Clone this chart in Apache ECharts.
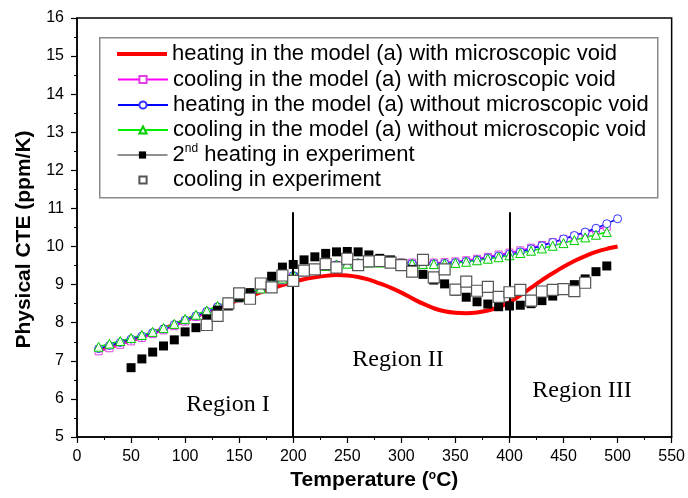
<!DOCTYPE html>
<html><head><meta charset="utf-8">
<script src="https://cdn.jsdelivr.net/npm/echarts@6/dist/echarts.min.js"></script>
<style>html,body{margin:0;padding:0;background:#fff}#c{width:688px;height:498px}</style>
</head><body><div id="c"></div>
<script>
// ---- data ----
const xTicks = [0,50,100,150,200,250,300,350,400,450,500,550];
const yTicks = [5,6,7,8,9,10,11,12,13,14,15,16];

const tempsTo500 = [20,30,40,50,60,70,80,90,100,110,120,130,140,150,160,170,180,190,200,210,220,230,240,250,260,270,280,290,300,310,320,330,340,350,360,370,380,390,400,410,420,430,440,450,460,470,480,490,500];
const tempsTo490 = [20,30,40,50,60,70,80,90,100,110,120,130,140,150,160,170,180,190,200,210,220,230,240,250,260,270,280,290,300,310,320,330,340,350,360,370,380,390,400,410,420,430,440,450,460,470,480,490];
const expHeatTemps = [50,60,70,80,90,100,110,120,130,140,150,160,170,180,190,200,210,220,230,240,250,260,270,280,290,300,310,320,330,340,350,360,370,380,390,400,410,420,430,440,450,460,470,480,490];
const expCoolTemps = [120,130,140,150,160,170,180,190,200,210,220,230,240,250,260,270,280,290,300,310,320,330,340,350,360,370,380,390,400,410,420,430,440,450,460,470];

const heatVoid = [7.28,7.36,7.45,7.54,7.63,7.73,7.84,7.95,8.06,8.17,8.28,8.39,8.5,8.6,8.7,8.8,8.9,8.99,9.07,9.14,9.19,9.23,9.25,9.24,9.2,9.13,9.03,8.92,8.79,8.64,8.5,8.38,8.3,8.26,8.25,8.27,8.32,8.41,8.54,8.72,8.92,9.12,9.3,9.47,9.62,9.75,9.86,9.94,10.0];
const coolVoid = [7.25,7.33,7.42,7.51,7.6,7.7,7.8,7.91,8.03,8.15,8.27,8.39,8.51,8.63,8.75,8.87,8.99,9.11,9.22,9.32,9.41,9.48,9.52,9.55,9.57,9.59,9.59,9.58,9.58,9.58,9.58,9.58,9.59,9.61,9.64,9.68,9.73,9.79,9.84,9.9,9.97,10.04,10.12,10.2,10.28,10.36,10.44,10.52];
const heatNoVoid = [7.32,7.4,7.48,7.57,7.65,7.74,7.84,7.95,8.07,8.18,8.3,8.42,8.54,8.66,8.78,8.9,9.02,9.14,9.24,9.34,9.42,9.48,9.52,9.55,9.57,9.58,9.58,9.57,9.56,9.55,9.55,9.55,9.56,9.58,9.61,9.65,9.7,9.75,9.8,9.86,9.94,10.02,10.11,10.2,10.29,10.38,10.48,10.6,10.73];
const coolNoVoid = [7.37,7.45,7.52,7.6,7.68,7.76,7.86,7.97,8.1,8.21,8.32,8.44,8.55,8.67,8.79,8.9,9.03,9.16,9.26,9.36,9.44,9.49,9.53,9.55,9.57,9.58,9.58,9.57,9.56,9.55,9.54,9.54,9.55,9.57,9.6,9.64,9.68,9.72,9.77,9.83,9.89,9.95,10.02,10.09,10.17,10.24,10.31,10.38];
const expHeat = [6.82,7.05,7.23,7.39,7.55,7.76,7.87,8.1,8.33,8.44,8.67,8.79,9.0,9.22,9.46,9.53,9.65,9.73,9.82,9.86,9.87,9.86,9.78,9.69,9.65,9.56,9.4,9.27,9.12,9.02,8.83,8.67,8.55,8.49,8.42,8.44,8.46,8.5,8.58,8.7,8.85,9.0,9.15,9.34,9.49];
const expCool = [7.94,8.18,8.51,8.77,8.63,9.03,8.93,9.24,9.1,9.37,9.4,9.54,9.45,9.68,9.51,9.61,9.62,9.58,9.51,9.34,9.65,9.19,9.4,8.87,9.08,8.84,8.94,8.68,8.8,8.86,8.58,8.82,8.86,8.88,8.83,9.05];

const regionBounds = [200, 400];
const regionLineTop = 10.9;

const names = [
  'heating in the model (a) with microscopic void',
  'cooling in the model (a) with microscopic void',
  'heating in the model (a) without microscopic void',
  'cooling in the model (a) without microscopic void',
  '2nd heating in experiment',
  'cooling in experiment'
];

const pair = (xs, ys) => xs.map((x, i) => [x, ys[i]]);
const SANS = 'Liberation Sans, Arial, sans-serif';
const SERIF = 'Liberation Serif, Times New Roman, serif';

const chart = echarts.init(document.getElementById('c'), null, {renderer: 'canvas'});

const rowCenters = [54, 79.5, 105, 130, 155, 180];
const legendItems = [
  {name: names[0], icon: 'path://M0,0 L50,0 L50,4 L0,4 Z'},
  {name: names[1]},
  {name: names[2]},
  {name: names[3]},
  {name: names[4], lineStyle: {opacity: 1, width: 1, color: '#222'}},
  {name: names[5]}
];
const legends = legendItems.map((it, i) => ({
  show: true, left: 117, top: rowCenters[i] - 12, orient: 'vertical', padding: 0,
  itemWidth: 50, itemHeight: 9, itemGap: 0, selectedMode: false,
  data: [it],
  formatter: n => n === names[4] ? '2{sup|nd} heating in experiment' : n,
  textStyle: {fontSize: 22, fontFamily: SANS, color: '#000', lineHeight: 24,
    rich: {sup: {fontSize: 12, fontFamily: SANS, color: '#000', lineHeight: 12, verticalAlign: 'top'}}}
}));

const option = {
  animation: false,
  backgroundColor: '#fff',
  grid: {left: 77, right: 14, top: 18, bottom: 61, show: true, borderColor: '#000', borderWidth: 1.5, backgroundColor: 'transparent'},
  legend: legends,
  xAxis: {
    type: 'value', min: xTicks[0], max: xTicks[xTicks.length - 1], interval: 50,
    name: 'Temperature ({sup|o}C)', nameLocation: 'middle', nameGap: 33,
    nameTextStyle: {fontSize: 21, fontWeight: 'bold', fontFamily: SANS, color: '#000',
      rich: {sup: {fontSize: 12, fontWeight: 'bold', fontFamily: SANS, color: '#000', verticalAlign: 'top', lineHeight: 10}}},
    axisLine: {lineStyle: {color: '#000', width: 1.5}},
    axisTick: {inside: false, length: 6, lineStyle: {color: '#000', width: 1.2}},
    minorTick: {show: true, splitNumber: 2, length: 3, lineStyle: {color: '#000', width: 1}},
    axisLabel: {fontSize: 16, fontFamily: SANS, color: '#000', margin: 12},
    splitLine: {show: false}
  },
  yAxis: {
    type: 'value', min: yTicks[0], max: yTicks[yTicks.length - 1], interval: 1,
    name: 'Physical CTE (ppm/K)', nameLocation: 'middle', nameGap: 42,
    nameTextStyle: {fontSize: 21, fontWeight: 'bold', fontFamily: SANS, color: '#000', padding: [0, 24, 0, 0]},
    axisLine: {lineStyle: {color: '#000', width: 1.5}},
    axisTick: {inside: false, length: 6, lineStyle: {color: '#000', width: 1.2}},
    minorTick: {show: true, splitNumber: 2, length: 3, lineStyle: {color: '#000', width: 1}},
    axisLabel: {fontSize: 16, fontFamily: SANS, color: '#000', margin: 13},
    splitLine: {show: false}
  },
  series: [
    {
      name: names[0], type: 'line', data: pair(tempsTo500, heatVoid), smooth: 0.3,
      symbol: 'none', lineStyle: {color: '#ff0000', width: 4}, itemStyle: {color: '#ff0000'},
      z: 2,
      markLine: {
        silent: true, symbol: ['none', 'none'], label: {show: false},
        lineStyle: {color: '#000', width: 2, type: 'solid'},
        data: regionBounds.map(b => [{coord: [b, yTicks[0]]}, {coord: [b, regionLineTop]}])
      }
    },
    {
      name: names[1], type: 'line', data: pair(tempsTo490, coolVoid),
      symbol: 'rect', symbolSize: 7,
      lineStyle: {color: '#ff00ff', width: 1.5},
      itemStyle: {color: '#fff', borderColor: '#e040e0', borderWidth: 1}, z: 3
    },
    {
      name: names[2], type: 'line', data: pair(tempsTo500, heatNoVoid),
      symbol: 'circle', symbolSize: 8,
      lineStyle: {color: '#0000ff', width: 1.5},
      itemStyle: {color: '#fff', borderColor: '#3030ff', borderWidth: 1}, z: 3
    },
    {
      name: names[3], type: 'line', data: pair(tempsTo490, coolNoVoid),
      symbol: 'triangle', symbolSize: 9,
      lineStyle: {color: '#00ee00', width: 1.5},
      itemStyle: {color: '#f4fff4', borderColor: '#00cc00', borderWidth: 1}, z: 3
    },
    {
      name: names[4], type: 'line', data: pair(expHeatTemps, expHeat),
      symbol: 'rect', symbolSize: 9,
      lineStyle: {color: '#000', width: 1, opacity: 0},
      itemStyle: {color: '#000'}, z: 4
    },
    {
      name: names[5], type: 'line', data: pair(expCoolTemps, expCool),
      symbol: 'rect', symbolSize: 11,
      lineStyle: {color: '#555', width: 1, opacity: 0},
      itemStyle: {color: '#fff', borderColor: '#555', borderWidth: 1.2}, z: 5
    }
  ],
  graphic: [
    {type: 'rect', left: 99, top: 37, shape: {width: 558, height: 160}, style: {fill: '#fff', stroke: '#8a8a8a', lineWidth: 1.5}, z: 1},
    {type: 'text', x: 228, y: 405, style: {text: 'Region I', font: '24px ' + SERIF, fill: '#000', align: 'center', verticalAlign: 'middle'}, z: 10},
    {type: 'text', x: 398, y: 360, style: {text: 'Region II', font: '24px ' + SERIF, fill: '#000', align: 'center', verticalAlign: 'middle'}, z: 10},
    {type: 'text', x: 582, y: 391, style: {text: 'Region III', font: '24px ' + SERIF, fill: '#000', align: 'center', verticalAlign: 'middle'}, z: 10}
  ]
};
chart.setOption(option);
</script>
</body></html>
